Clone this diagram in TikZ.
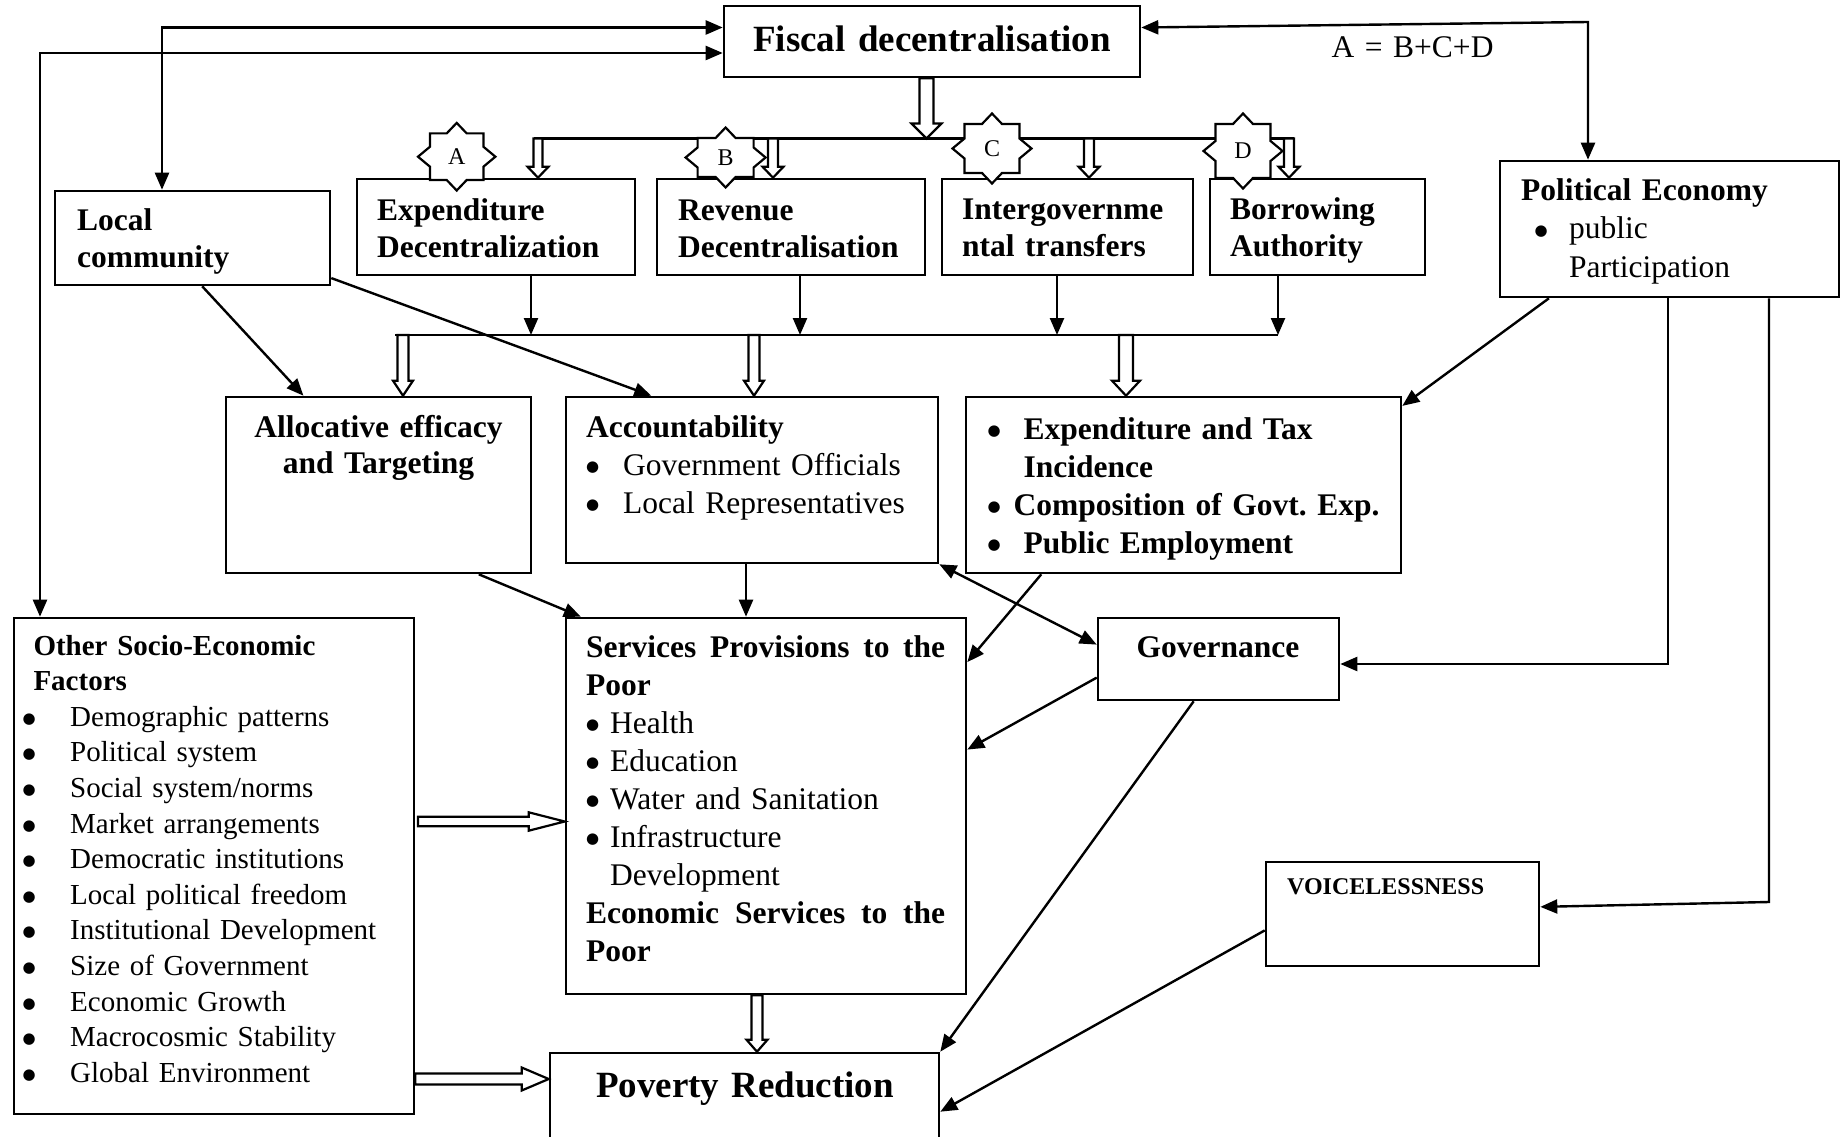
\documentclass[tikz,border=0pt]{standalone}
\usepackage{fontspec}
\setmainfont{Liberation Serif}
\newfontfamily\dotfont{DejaVu Sans}
\usetikzlibrary{arrows.meta,calc,fit}
\frenchspacing

% font size helper and the list bullet
\newcommand\fsz[2]{\fontsize{#1}{#2}\selectfont}
\newcommand\bul{\raisebox{0.1em}{\dotfont\fontsize{15}{15}\selectfont ●}}
% a line spread out to a fixed width
\newcommand\spread[2]{\hbox to #1{#2}}

% hollow block arrows: start, tip, shaft half width, head half width, head length
\newcommand\hdown[5]{%
  \draw[hollow] ($(#1)+(-#3,0)$) -- ($(#2)+(-#3,-#5)$) -- ($(#2)+(-#4,-#5)$) -- (#2)
    -- ($(#2)+(#4,-#5)$) -- ($(#2)+(#3,-#5)$) -- ($(#1)+(#3,0)$) -- cycle;}
\newcommand\hright[5]{%
  \draw[hollow] ($(#1)+(0,-#3)$) -- ($(#2)+(-#5,-#3)$) -- ($(#2)+(-#5,-#4)$) -- (#2)
    -- ($(#2)+(-#5,#4)$) -- ($(#2)+(-#5,#3)$) -- ($(#1)+(0,#3)$) -- cycle;}

% eight-point star badge: name, centre x, centre y, half width, half height, letter
\newcommand\octstar[6]{%
  \draw[starline] ({#2-#4},{#3-#5}) -- ({#2-10},{#3-#5}) -- (#2,{#3-#5-10.5}) -- ({#2+10},{#3-#5})
    -- ({#2+#4},{#3-#5}) -- ({#2+#4},{#3-10}) -- ({#2+#4+12},#3) -- ({#2+#4},{#3+10})
    -- ({#2+#4},{#3+#5}) -- ({#2+10},{#3+#5}) -- (#2,{#3+#5+10.5}) -- ({#2-10},{#3+#5})
    -- ({#2-#4},{#3+#5}) -- ({#2-#4},{#3+10}) -- ({#2-#4-12},#3) -- ({#2-#4},{#3-10}) -- cycle;
  \node[starlbl] (#1) at (#2,#3) {#6};}

\tikzset{
  box/.style={draw, line width=2.6pt, inner sep=0pt, rectangle},
  link/.style={line width=2.4pt, -{Triangle[length=17pt,width=14pt]}},
  linkboth/.style={line width=2.4pt, {Triangle[length=17pt,width=14pt]}-{Triangle[length=17pt,width=14pt]}},
  busline/.style={line width=2.4pt},
  hollow/.style={draw, line width=2.2pt, fill=white, line join=miter},
  starline/.style={draw, line width=2.2pt, fill=white, line join=miter},
  starlbl/.style={inner sep=0pt, font=\fsz{24}{28}},
  lbl/.style={inner sep=0pt, anchor=base west, align=left, text width=#1},
  lblc/.style={inner sep=0pt, anchor=base, align=center, text width=#1},
}

\begin{document}
\begin{tikzpicture}[x=1pt,y=-1pt]
\useasboundingbox (0,0) rectangle (1846,1137);
\fill[white] (0,0) rectangle (1846,1137);
\clip (0,0) rectangle (1846,1137);

% ---------- boxes ----------
\node[box, fit={(724,6) (1140,77)}] (fiscal) {};
\node[box, fit={(55,191) (330,285)}] (localc) {};
\node[box, fit={(357,179) (635,275)}] (expd) {};
\node[box, fit={(657,179) (925,275)}] (revd) {};
\node[box, fit={(942,179) (1193,275)}] (intg) {};
\node[box, fit={(1210,179) (1425,275)}] (borr) {};
\node[box, fit={(1500,161) (1839,297)}] (polec) {};
\node[box, fit={(226,397) (531,573)}] (alloc) {};
\node[box, fit={(566,397) (938,563)}] (acct) {};
\node[box, fit={(966,397) (1401,573)}] (exptax) {};
\node[box, fit={(14,618) (414,1114)}] (other) {};
\node[box, fit={(566,618) (966,994)}] (serv) {};
\node[box, fit={(1098,618) (1339,700)}] (gov) {};
\node[box, fit={(1266,862) (1539,966)}] (voice) {};
\node[box, fit={(550,1053) (939,1180)}] (pov) {};

% ---------- feedback loops round the top ----------
\coordinate (k1) at (162,27.5);
\coordinate (k2) at (40,53);
\coordinate (k3) at (1588,22);
\coordinate (k4) at (1668,664);
\coordinate (k5) at (1769,902);
\draw[linkboth] (k1 |- localc.north) -- (k1) -- (k1 -| fiscal.west);
\draw[linkboth] (k2 |- other.north) -- (k2) -- (k2 -| fiscal.west);
\draw[linkboth] (k3 |- polec.north) -- (k3) -- ($(fiscal.north east)!0.31!(fiscal.south east)$);
\draw[link] (k4 |- polec.south) -- (k4) -- (k4 -| gov.east);
\draw[link] (k5 |- polec.south) -- (k5) -- ($(voice.north east)!0.433!(voice.south east)$);

% ---------- distribution bars ----------
\coordinate (b1w) at (533.5,138.5);
\coordinate (b1e) at (1294,138.5);
\coordinate (b2w) at (395,335);
\coordinate (b2e) at (1278,335);
\draw[busline] (b1w) -- (b1e);
\draw[busline] (b2w) -- (b2e);

\coordinate (dx1) at (531,0);
\coordinate (dx2) at (800,0);
\coordinate (dx3) at (1057,0);
\coordinate (dx4) at (1278,0);
\draw[link] (expd.south -| dx1) -- (b2w -| dx1);
\draw[link] (revd.south -| dx2) -- (b2w -| dx2);
\draw[link] (intg.south -| dx3) -- (b2w -| dx3);
\draw[link] (borr.south -| dx4) -- (b2w -| dx4);

% ---------- single arrows ----------
\draw[link] ($(localc.south west)!0.535!(localc.south east)$) -- ($(alloc.north west)!0.256!(alloc.north east)$);
\draw[link] ($(localc.north east)!0.915!(localc.south east)$) -- ($(acct.north west)!0.231!(acct.north east)$);
\draw[link] ($(polec.south west)!0.147!(polec.south east)$) -- ($(exptax.north east)!0.057!(exptax.south east)$);
\draw[link] ($(alloc.south west)!0.826!(alloc.south east)$) -- ($(serv.north west)!0.04!(serv.north east)$);
\coordinate (k6) at (746,0);
\draw[link] (acct.south -| k6) -- (serv.north -| k6);
\draw[linkboth] (acct.south east) -- ($(gov.north west)!0.33!(gov.south west)$);
\draw[link] ($(exptax.south west)!0.175!(exptax.south east)$) -- ($(serv.north east)!0.12!(serv.south east)$);
\draw[link] ($(gov.north west)!0.72!(gov.south west)$) -- ($(serv.north east)!0.351!(serv.south east)$);
\draw[link] ($(gov.south west)!0.398!(gov.south east)$) -- (pov.north east);
\draw[link] ($(voice.north west)!0.654!(voice.south west)$) -- ($(pov.north east)+(0,60)$);

% ---------- hollow block arrows ----------
\coordinate (hx0) at (926.5,0);
\coordinate (hx1) at (538,0);
\coordinate (hx2) at (773,0);
\coordinate (hx3) at (1089,0);
\coordinate (hx4) at (1289,0);
\coordinate (hx5) at (403,0);
\coordinate (hx6) at (754,0);
\coordinate (hx7) at (1126,0);
\coordinate (hx8) at (757,0);
\coordinate (hy1) at (418,821.5);
\coordinate (hy2) at (415,1079);
\hdown{fiscal.south -| hx0}{b1w -| hx0}{7}{15}{15}
\hdown{b1w -| hx1}{expd.north -| hx1}{4.5}{10.5}{11}
\hdown{b1w -| hx2}{revd.north -| hx2}{5}{10.5}{11}
\hdown{b1w -| hx3}{intg.north -| hx3}{5}{10.5}{11}
\hdown{b1w -| hx4}{borr.north -| hx4}{5}{10.5}{11}
\hdown{b2w -| hx5}{alloc.north -| hx5}{5.5}{10}{15}
\hdown{b2w -| hx6}{acct.north -| hx6}{5.5}{10}{15}
\hdown{b2w -| hx7}{exptax.north -| hx7}{7}{14}{15}
\hdown{serv.south -| hx8}{pov.north -| hx8}{5.5}{10.5}{12}
\hright{hy1}{serv.west |- hy1}{4.7}{9.2}{36}
\hright{other.east |- hy2}{pov.west |- hy2}{5.5}{11.5}{27}

% ---------- component badges ----------
\octstar{starA}{456.7}{156.7}{26.7}{23.3}{A}
\octstar{starB}{725.6}{157.5}{28}{19.5}{B}
\octstar{starC}{992}{148.5}{27.5}{24.5}{C}
\octstar{starD}{1243}{151}{27.5}{27}{D}

% ---------- texts ----------
\node[lblc=400pt, font=\fsz{37}{44}\bfseries] (fiscal-t) at (932,52) {Fiscal decentralisation};
\node[lbl=200pt, font=\fsz{31.5}{37}] (eq-t) at (1331.5,58) {A = B+C+D};
\node[lbl=250pt, font=\fsz{31.5}{37}\bfseries] (localc-t) at (77,230) {Local\\community};
\node[lbl=260pt, font=\fsz{31.5}{37}\bfseries] (expd-t) at (377,220) {Expenditure\\Decentralization};
\node[lbl=260pt, font=\fsz{31.5}{37}\bfseries] (revd-t) at (678,220) {Revenue\\Decentralisation};
\node[lbl=230pt, font=\fsz{31.5}{37}\bfseries] (intg-t) at (962,219) {Intergovernme\\ntal transfers};
\node[lbl=200pt, font=\fsz{31.5}{37}\bfseries] (borr-t) at (1230,219) {Borrowing\\Authority};
\node[lbl=310pt, font=\fsz{31.5}{38.5}] (polec-t) at (1521,200)
  {\textbf{Political Economy}\\\hspace*{13.5pt}\makebox[34.5pt][l]{\bul}public\\\hspace*{48pt}Participation};
\node[lblc=300pt, font=\fsz{31.5}{36}\bfseries] (alloc-t) at (378.5,437) {Allocative efficacy\\and Targeting};
\node[lbl=350pt, font=\fsz{31.5}{38}] (acct-t) at (586,437)
  {\textbf{Accountability}\\\makebox[37pt][l]{\bul}Government Officials\\\makebox[37pt][l]{\bul}Local Representatives};
\node[lbl=410pt, font=\fsz{31.5}{38}\bfseries] (exptax-t) at (987.5,439)
  {\makebox[36pt][l]{\bul}Expenditure and Tax\\\hspace*{36pt}Incidence\\\makebox[26pt][l]{\bul}Composition of Govt. Exp.\\\makebox[36pt][l]{\bul}Public Employment};
\node[lblc=230pt, font=\fsz{31.5}{37}\bfseries] (gov-t) at (1218,657) {Governance};
\node[lbl=385pt, font=\fsz{29}{35.6}] (other-t) at (22.3,655)
  {\hspace*{11pt}\textbf{Other Socio-Economic}\\\hspace*{11pt}\textbf{Factors}\\
   \makebox[47.7pt][l]{\bul}Demographic patterns\\
   \makebox[47.7pt][l]{\bul}Political system\\
   \makebox[47.7pt][l]{\bul}Social system/norms\\
   \makebox[47.7pt][l]{\bul}Market arrangements\\
   \makebox[47.7pt][l]{\bul}Democratic institutions\\
   \makebox[47.7pt][l]{\bul}Local political freedom\\
   \makebox[47.7pt][l]{\bul}Institutional Development\\
   \makebox[47.7pt][l]{\bul}Size of Government\\
   \makebox[47.7pt][l]{\bul}Economic Growth\\
   \makebox[47.7pt][l]{\bul}Macrocosmic Stability\\
   \makebox[47.7pt][l]{\bul}Global Environment};
\node[lbl=370pt, font=\fsz{31.5}{38}] (serv-t) at (586,657)
  {\textbf{\spread{359pt}{Services\hfill Provisions\hfill to\hfill the}}\\\textbf{Poor}\\
   \makebox[24pt][l]{\bul}Health\\
   \makebox[24pt][l]{\bul}Education\\
   \makebox[24pt][l]{\bul}Water and Sanitation\\
   \makebox[24pt][l]{\bul}Infrastructure\\
   \hspace*{24pt}Development\\
   \textbf{\spread{359pt}{Economic\hfill Services\hfill to\hfill the}}\\\textbf{Poor}};
\node[lblc=380pt, font=\fsz{37}{44}\bfseries] (pov-t) at (745,1097) {Poverty Reduction};
\node[lbl=250pt, font=\fsz{24}{28}\bfseries] (voice-t) at (1287,894) {VOICELESSNESS};
\end{tikzpicture}
\end{document}
